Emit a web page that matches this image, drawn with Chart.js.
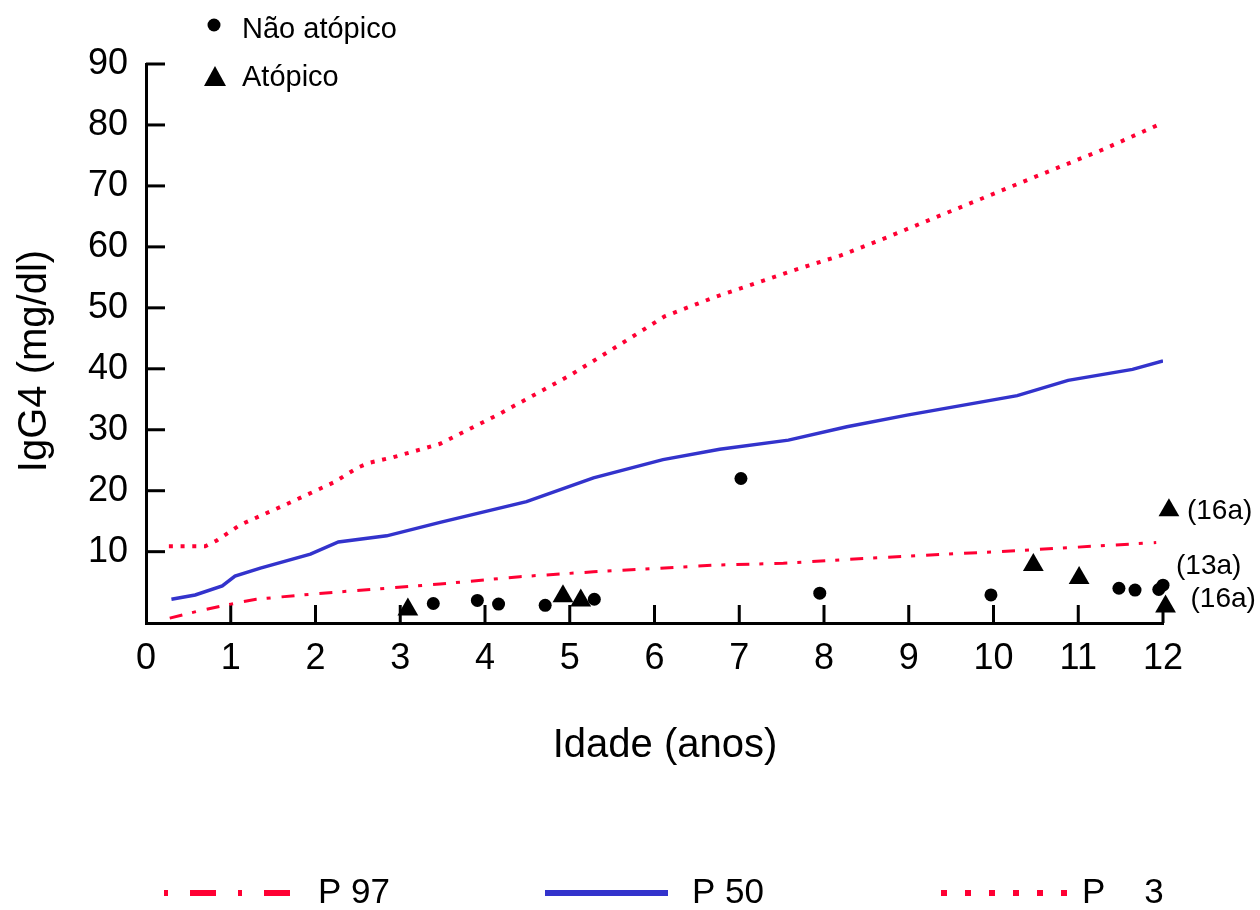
<!DOCTYPE html>
<html>
<head>
<meta charset="utf-8">
<script src="https://cdn.jsdelivr.net/npm/chart.js@4.4.1/dist/chart.umd.min.js"></script>
<style>
html,body{margin:0;padding:0;background:#fff;}
#wrap{position:relative;width:1260px;height:910px;}
</style>
</head>
<body>
<div id="wrap"><canvas id="c" width="1260" height="910"></canvas></div>
<script>
const FONT = '"Liberation Sans", Arial, Helvetica, sans-serif';

// ---- tick labels ----
const xTicks = [0,1,2,3,4,5,6,7,8,9,10,11,12];
const yTicks = [10,20,30,40,50,60,70,80,90];

// ---- percentile curves (age in years, IgG4 mg/dl) ----
const p97X = [0.28, 0.6, 1.0, 1.3, 2.0, 2.84, 3.47, 4.41, 5.28, 6.73, 7.52, 8.5, 9.6, 10.08, 11.92];
const p97Y = [-0.9, 0.2, 1.4, 2.2, 3.1, 4.0, 4.7, 5.9, 6.7, 7.8, 8.1, 8.9, 9.7, 10.0, 11.5];

const p50X = [0.3, 0.58, 0.9, 1.05, 1.35, 1.94, 2.27, 2.84, 3.47, 4.49, 5.28, 6.1, 6.77, 7.58, 8.27, 8.98, 10.28, 10.88, 11.64, 12.0];
const p50Y = [2.2, 2.9, 4.4, 6.0, 7.3, 9.6, 11.6, 12.6, 14.8, 18.2, 22.1, 25.1, 26.8, 28.3, 30.5, 32.4, 35.6, 38.1, 39.9, 41.3];

const p3X = [0.27, 0.7, 0.83, 1.11, 1.66, 2.22, 2.5, 2.64, 2.92, 3.47, 4.17, 5.0, 5.56, 6.12, 6.68, 7.65, 8.2, 8.75, 9.31, 10.44, 11.28, 11.99];
const p3Y = [10.9, 10.9, 11.8, 14.4, 17.8, 21.4, 23.8, 24.6, 25.5, 27.7, 32.6, 38.9, 43.7, 48.6, 51.6, 56.2, 58.6, 61.6, 64.8, 71.2, 75.9, 80.3];

// ---- individual patients ----
const naoAtopicoX = [3.39, 3.91, 4.16, 4.71, 5.29, 7.02, 7.95, 9.97, 11.48, 11.67, 11.95, 12.0, 12.13];
const naoAtopicoY = [1.5, 2.0, 1.4, 1.2, 2.2, 22.0, 3.2, 2.9, 4.0, 3.7, 3.8, 4.5, 4.1];

const atopicoX = [3.09, 4.92, 5.13, 10.47, 11.01, 12.07, 12.03];
const atopicoY = [0.5, 2.7, 2.0, 7.8, 5.7, 16.8, 1.0];

// ---- point annotations ----
const annotText = ['(16a)', '(13a)', '(16a)'];
const annotX = [12.07, 12.13, 12.03];
const annotY = [16.8, 4.1, 1.0];

const toXY = (xs, ys) => xs.map((x, i) => ({x: x, y: ys[i]}));

const RED = '#ff0033';
const BLUE = '#3333cc';

const annotOffsets = [[18, 1], [2, -21], [25, -7]];

const decorPlugin = {
  id: 'decor',
  beforeDatasetsDraw(chart) {
    const ctx = chart.ctx;
    const xs = chart.scales.x, ys = chart.scales.y;
    const ca = chart.chartArea;
    ctx.save();
    ctx.strokeStyle = '#000';
    ctx.lineWidth = 3;
    ctx.lineCap = 'butt';
    xs.ticks.forEach(t => {
      if (t.value === 0) return;
      const px = xs.getPixelForValue(t.value);
      ctx.beginPath();
      ctx.moveTo(px, ca.bottom);
      ctx.lineTo(px, ca.bottom - 18);
      ctx.stroke();
    });
    ys.ticks.forEach(t => {
      const py = ys.getPixelForValue(t.value);
      ctx.beginPath();
      ctx.moveTo(ca.left, py);
      ctx.lineTo(ca.left + 19, py);
      ctx.stroke();
    });
    ctx.restore();
  },
  afterDraw(chart) {
    const ctx = chart.ctx;
    const xs = chart.scales.x, ys = chart.scales.y;
    ctx.save();
    // annotations
    ctx.fillStyle = '#000';
    ctx.font = '28px ' + FONT;
    ctx.textAlign = 'left';
    ctx.textBaseline = 'middle';
    annotText.forEach((t, i) => {
      const px = xs.getPixelForValue(annotX[i]) + annotOffsets[i][0];
      const py = ys.getPixelForValue(annotY[i]) + annotOffsets[i][1];
      ctx.fillText(t, px, py);
    });

    // axis titles
    ctx.font = '40px ' + FONT;
    ctx.textAlign = 'center';
    ctx.fillText('Idade (anos)', 665, 746);
    ctx.save();
    ctx.translate(35, 361);
    ctx.rotate(-Math.PI / 2);
    ctx.fillText('IgG4 (mg/dl)', 0, 0);
    ctx.restore();

    // top legend (markers)
    ctx.font = '29px ' + FONT;
    ctx.textAlign = 'left';
    ctx.beginPath();
    ctx.arc(214, 25, 6.5, 0, Math.PI * 2);
    ctx.fill();
    ctx.fillText('Não atópico', 242, 30);
    ctx.beginPath();
    ctx.moveTo(215, 66);
    ctx.lineTo(226, 86);
    ctx.lineTo(204, 86);
    ctx.closePath();
    ctx.fill();
    ctx.fillText('Atópico', 242, 78);

    // bottom legend (lines)
    const ly = 893;
    ctx.lineCap = 'butt';
    ctx.lineWidth = 6;
    ctx.strokeStyle = RED;
    ctx.setLineDash([4, 22, 26, 22]);
    ctx.beginPath(); ctx.moveTo(164, ly); ctx.lineTo(290, ly); ctx.stroke();
    ctx.strokeStyle = BLUE;
    ctx.setLineDash([]);
    ctx.beginPath(); ctx.moveTo(545, ly); ctx.lineTo(668, ly); ctx.stroke();
    ctx.strokeStyle = RED;
    ctx.setLineDash([6, 18]);
    ctx.beginPath(); ctx.moveTo(941, ly); ctx.lineTo(1069, ly); ctx.stroke();
    ctx.setLineDash([]);
    ctx.font = '35px ' + FONT;
    ctx.fillStyle = '#000';
    ctx.fillText('P 97', 318, ly);
    ctx.fillText('P 50', 692, ly);
    ctx.fillText('P    3', 1082, ly);
    ctx.restore();
  }
};

new Chart(document.getElementById('c'), {
  type: 'scatter',
  data: {
    datasets: [
      { label: 'Não atópico', data: toXY(naoAtopicoX, naoAtopicoY), pointStyle: 'circle', pointRadius: 6.5,
        backgroundColor: '#000', borderWidth: 0, clip: false },
      { label: 'Atópico', data: toXY(atopicoX, atopicoY), pointStyle: 'triangle', pointRadius: 12,
        backgroundColor: '#000', borderWidth: 0, clip: false },
      { label: 'P 97', data: toXY(p97X, p97Y), showLine: true, pointRadius: 0, borderColor: RED,
        borderWidth: 3, borderDash: [13, 10, 4, 11], tension: 0, fill: false },
      { label: 'P 50', data: toXY(p50X, p50Y), showLine: true, pointRadius: 0, borderColor: BLUE,
        borderWidth: 3.5, tension: 0, fill: false },
      { label: 'P 3', data: toXY(p3X, p3Y), showLine: true, pointRadius: 0, borderColor: RED,
        borderWidth: 4, borderDash: [4, 7.7], tension: 0, fill: false }
    ]
  },
  options: {
    responsive: false,
    animation: false,
    events: [],
    devicePixelRatio: 1,
    layout: { padding: { left: 0, right: 97, top: 64, bottom: 100 } },
    plugins: { legend: { display: false }, tooltip: { enabled: false } },
    scales: {
      x: {
        type: 'linear', min: 0, max: 12,
        afterBuildTicks: s => { s.ticks = xTicks.map(v => ({value: v})); },
        afterFit: s => { s.height = 187; },
        grid: { display: false, drawTicks: false },
        border: { display: true, color: '#000', width: 3 },
        ticks: { color: '#000', font: { family: FONT, size: 36 }, padding: 14, maxRotation: 0, autoSkip: false,
                 callback: v => String(v) }
      },
      y: {
        type: 'linear', min: -1.7, max: 90,
        afterBuildTicks: s => { s.ticks = yTicks.map(v => ({value: v})); },
        afterFit: s => { s.width = 146; },
        grid: { display: false, drawTicks: false },
        border: { display: true, color: '#000', width: 3 },
        ticks: { color: '#000', font: { family: FONT, size: 36 }, padding: 18, autoSkip: false,
                 callback: v => String(v) }
      }
    }
  },
  plugins: [decorPlugin]
});
</script>
</body>
</html>
